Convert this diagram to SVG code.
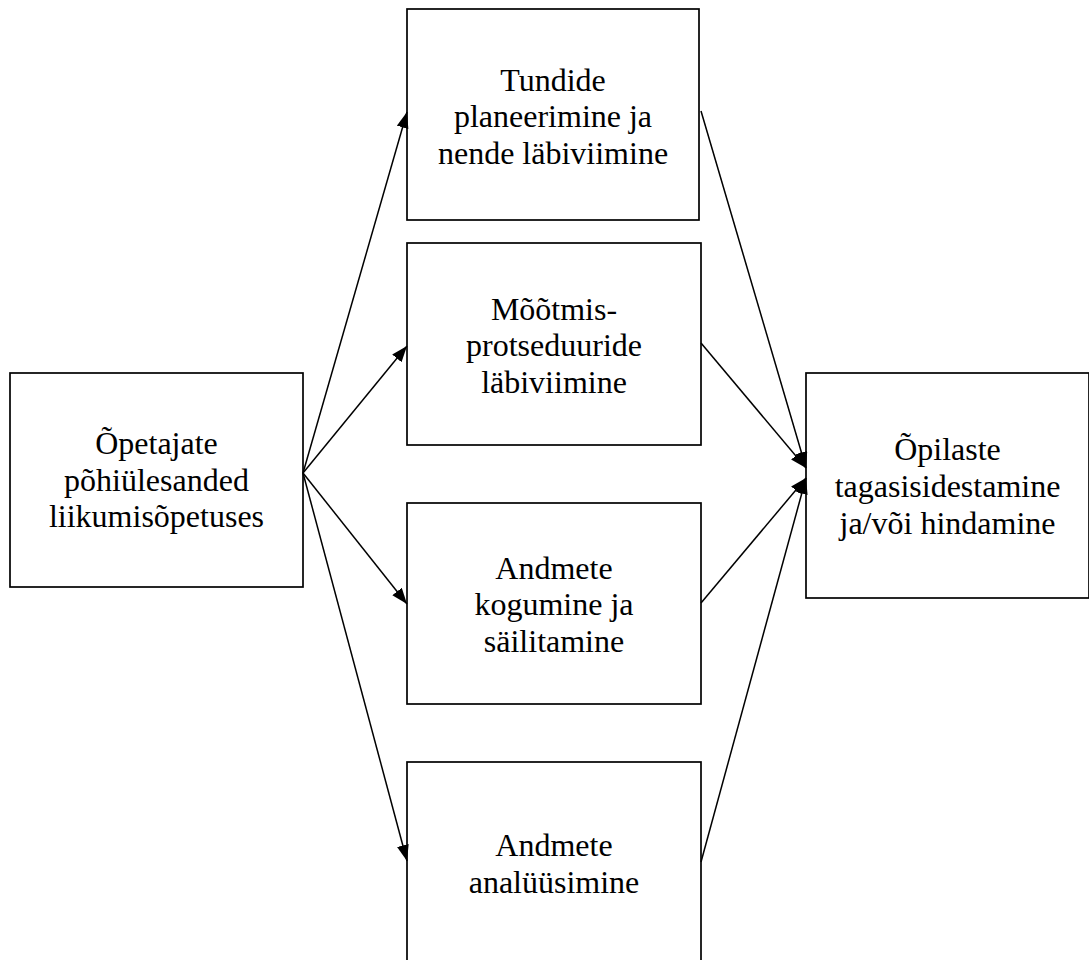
<svg xmlns="http://www.w3.org/2000/svg" width="1089" height="960" viewBox="0 0 1089 960">
<style>
.box{fill:#fff;stroke:#000;stroke-width:1.7}
.lbl{font-family:"Liberation Serif","Times New Roman",serif;font-size:32px;fill:#000;text-anchor:middle}
.conn{stroke:#000;stroke-width:1.5;fill:none;marker-end:url(#ah)}
</style>
<defs>
<marker id="ah" markerUnits="userSpaceOnUse" markerWidth="17" markerHeight="13" refX="16" refY="6" orient="auto">
<path d="M0,0 L16,6 L0,12 z" fill="#000"/>
</marker>
</defs>
<rect width="1089" height="960" fill="#fff"/>
<g id="n-left">
<rect class="box" x="10" y="373" width="293" height="214"/>
<text class="lbl" x="156.5" y="454">Õpetajate</text>
<text class="lbl" x="156.5" y="491">põhiülesanded</text>
<text class="lbl" x="156.5" y="527">liikumisõpetuses</text>
</g>
<g id="n-tundide">
<rect class="box" x="407" y="9" width="292" height="211"/>
<text class="lbl" x="553" y="90.5">Tundide</text>
<text class="lbl" x="553" y="127">planeerimine ja</text>
<text class="lbl" x="553" y="163.5">nende läbiviimine</text>
</g>
<g id="n-mootmis">
<rect class="box" x="407" y="243" width="294" height="202"/>
<text class="lbl" x="554" y="319.5">Mõõtmis-</text>
<text class="lbl" x="554" y="356">protseduuride</text>
<text class="lbl" x="554" y="392.5">läbiviimine</text>
</g>
<g id="n-kogumine">
<rect class="box" x="407" y="503" width="294" height="201"/>
<text class="lbl" x="554" y="578.5">Andmete</text>
<text class="lbl" x="554" y="615">kogumine ja</text>
<text class="lbl" x="554" y="651.5">säilitamine</text>
</g>
<g id="n-analuus">
<rect class="box" x="407" y="762" width="294" height="220"/>
<text class="lbl" x="554" y="856">Andmete</text>
<text class="lbl" x="554" y="893">analüüsimine</text>
</g>
<g id="n-right">
<rect class="box" x="806" y="373" width="283" height="225"/>
<text class="lbl" x="947.5" y="460">Õpilaste</text>
<text class="lbl" x="947.5" y="497">tagasisidestamine</text>
<text class="lbl" x="947.5" y="534">ja/või hindamine</text>
</g>
<g id="connectors">
<line class="conn" x1="303" y1="473" x2="407" y2="112"/>
<line class="conn" x1="303" y1="473" x2="407" y2="346"/>
<line class="conn" x1="303" y1="473" x2="407" y2="604"/>
<line class="conn" x1="303" y1="473" x2="407" y2="861"/>
<line class="conn" x1="701" y1="111" x2="806" y2="468"/>
<line class="conn" x1="701" y1="343" x2="806" y2="468"/>
<line class="conn" x1="701" y1="603" x2="806" y2="478"/>
<line class="conn" x1="701" y1="862" x2="806" y2="478"/>
</g>
</svg>
